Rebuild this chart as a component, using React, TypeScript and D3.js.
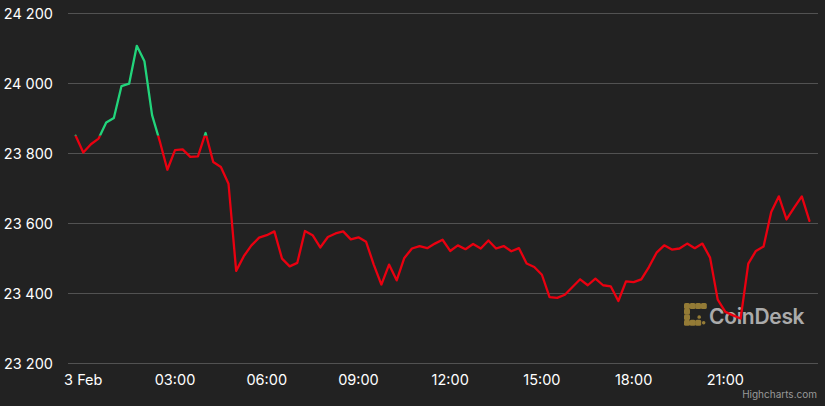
import React, { useEffect, useRef } from 'react';
import * as d3 from 'd3';

// BTC price, 15-minute steps starting 2 Feb 23:45
const START_TIME = Date.UTC(2023, 1, 2, 23, 45);
const STEP_MINUTES = 15;
const PRICES = [
  23850, 23802, 23826, 23842, 23888, 23901, 23992, 23999, 24107, 24063,
  23909, 23835, 23753, 23809, 23811, 23790, 23791, 23858, 23775, 23761,
  23713, 23464, 23506, 23537, 23559, 23566, 23577, 23499, 23477, 23487,
  23578, 23566, 23531, 23561, 23571, 23577, 23554, 23560, 23547, 23482,
  23425, 23482, 23437, 23501, 23528, 23535, 23529, 23542, 23553, 23521,
  23537, 23526, 23541, 23528, 23551, 23528, 23535, 23520, 23529, 23485,
  23475, 23453, 23389, 23387, 23396, 23418, 23440, 23423, 23442, 23423,
  23420, 23378, 23434, 23432, 23440, 23475, 23516, 23537, 23525, 23528,
  23542, 23529, 23542, 23502, 23382, 23347, 23337, 23328, 23485, 23521,
  23534, 23632, 23677, 23611, 23645, 23677, 23607,
];
const Y_TICKS = [23200, 23400, 23600, 23800, 24000, 24200];
const X_TICK_HOURS = [0, 3, 6, 9, 12, 15, 18, 21];
const X_TICK_LABELS = ['3 Feb', '03:00', '06:00', '09:00', '12:00', '15:00', '18:00', '21:00'];

const UP = '#22d47b';
const DOWN = '#ea0010';

function PriceChart() {
  const ref = useRef<SVGSVGElement>(null);

  useEffect(() => {
    const svg = d3.select(ref.current);
    svg.selectAll('*').remove();
    const W = 825, H = 406;
    const m = { t: 13.3, r: 7, b: 42.7, l: 68 };
    const day0 = Date.UTC(2023, 1, 3, 0, 0);
    const hour = 3600 * 1000;

    const pts = PRICES.map((v, i) => ({ t: START_TIME + i * STEP_MINUTES * 60000, v }));
    const x = d3.scaleLinear().domain([day0 - 0.5 * hour, day0 + 24.03 * hour]).range([m.l, W - m.r]);
    const y = d3.scaleLinear().domain([23200, 24200]).range([H - m.b, m.t]);

    svg.append('rect').attr('width', W).attr('height', H).attr('fill', '#222222');

    // Grid + y labels
    const gy = svg.append('g');
    Y_TICKS.forEach(v => {
      gy.append('line').attr('x1', m.l).attr('x2', W - m.r).attr('y1', Math.round(y(v)) + 0.5).attr('y2', Math.round(y(v)) + 0.5)
        .attr('stroke', '#525252').attr('stroke-width', 1);
      gy.append('text').attr('x', 53).attr('y', y(v) + 6).attr('text-anchor', 'end')
        .attr('fill', '#ffffff').attr('font-size', '14.5px').attr('font-family', 'Inter, sans-serif')
        .text(d3.format(',')(v).replace(',', ' '));
    });

    // X labels
    X_TICK_HOURS.forEach((h, i) => {
      svg.append('text').attr('x', x(day0 + h * hour)).attr('y', 385).attr('text-anchor', 'middle')
        .attr('fill', '#ffffff').attr('font-size', '14.5px').attr('font-family', 'Inter, sans-serif')
        .text(X_TICK_LABELS[i]);
    });

    // Logo
    const logo = svg.append('g').attr('transform', 'translate(684,303)').attr('opacity', 0.85);
    const cells = [
      [0, 0], [1, 0], [2, 0], [3, 0],
      [0, 1],
      [0, 2], [2.4, 2.2],
      [0, 3], [1, 3], [2, 3], [3.2, 3.2],
    ];
    cells.forEach(([cx, cy]) => {
      const s = cx % 1 ? 3.5 : 6;
      logo.append('rect').attr('x', cx * 5.6).attr('y', cy * 5.6).attr('width', s).attr('height', s).attr('rx', 1.6)
        .attr('fill', '#a88b3a');
    });
    svg.append('text').attr('x', 709).attr('y', 324).attr('fill', '#c4c4c4').attr('opacity', 0.85)
      .attr('font-size', '21px').attr('font-weight', 600).attr('font-family', 'Inter, sans-serif').attr('letter-spacing', '-0.3px')
      .text('CoinDesk');

    // Line split at the opening price: green above, red below
    const thr = y(PRICES[0]);
    const defs = svg.append('defs');
    defs.append('clipPath').attr('id', 'clip-up').append('rect').attr('x', 0).attr('y', 0).attr('width', W).attr('height', thr);
    defs.append('clipPath').attr('id', 'clip-down').append('rect').attr('x', 0).attr('y', thr).attr('width', W).attr('height', H - thr);
    const line = d3.line<{ t: number; v: number }>().x(d => x(d.t)).y(d => y(d.v));
    [['clip-up', UP], ['clip-down', DOWN]].forEach(([id, c]) => {
      svg.append('path').datum(pts).attr('fill', 'none').attr('stroke', c).attr('stroke-width', 2.3)
        .attr('stroke-linejoin', 'round').attr('stroke-linecap', 'round')
        .attr('clip-path', `url(#${id})`).attr('d', line);
    });

    // Credits
    svg.append('text').attr('x', 817).attr('y', 398).attr('text-anchor', 'end')
      .attr('fill', '#999999').attr('font-size', '10px').attr('font-family', 'Inter, sans-serif')
      .text('Highcharts.com');
  }, []);

  return <svg ref={ref} width={825} height={406} style={{ display: 'block' }} />;
}

export default function App() {
  return (
    <div style={{ position: 'fixed', left: 0, top: 0, width: 825, height: 406, background: '#222222' }}>
      <PriceChart />
    </div>
  );
}
